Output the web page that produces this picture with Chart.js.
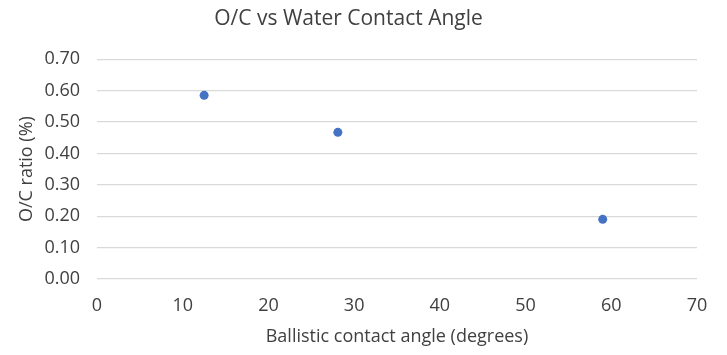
<!DOCTYPE html>
<html>
<head>
<meta charset="utf-8">
<script src="https://cdn.jsdelivr.net/npm/chart.js@4/dist/chart.umd.min.js"></script>
<style>
  html, body { margin: 0; padding: 0; background: #ffffff; }
  #wrap { width: 727px; height: 355px; position: relative; }
</style>
</head>
<body>
<div id="wrap"><canvas id="c" width="727" height="355"></canvas></div>
<script>
const contactAngle = [12.5, 28.1, 59.0];
const ocRatio = [0.585, 0.467, 0.19];
const yTicks = [0, 0.1, 0.2, 0.3, 0.4, 0.5, 0.6, 0.7];
const xTicks = [0, 10, 20, 30, 40, 50, 60, 70];

const points = contactAngle.map((x, i) => ({ x: x, y: ocRatio[i] }));
const FONT = "'Open Sans', sans-serif";
const TXT = '#404040';

new Chart(document.getElementById('c'), {
  type: 'scatter',
  data: {
    datasets: [{
      data: points,
      backgroundColor: '#4472C4',
      borderColor: '#4472C4',
      pointRadius: 4.5,
      pointHoverRadius: 4.5,
      borderWidth: 0
    }]
  },
  options: {
    responsive: false,
    animation: false,
    devicePixelRatio: 1,
    layout: { padding: { left: 0, right: 30, top: 0, bottom: 0 } },
    plugins: {
      legend: { display: false },
      tooltip: { enabled: false },
      title: {
        display: true,
        text: 'O/C vs Water Contact Angle',
        color: TXT,
        font: { family: FONT, size: 21, weight: 'normal' },
        padding: { top: 6, bottom: 28 }
      }
    },
    scales: {
      x: {
        type: 'linear',
        min: 0, max: 70,
        afterBuildTicks: (s) => { s.ticks = xTicks.map(v => ({ value: v })); },
        afterFit: (s) => { s.height = 76; },
        grid: { display: false, drawTicks: false },
        border: { display: false },
        ticks: {
          color: TXT, padding: 16,
          font: { family: FONT, size: 18 },
          maxRotation: 0,
          callback: (v) => String(v)
        },
        title: {
          display: true,
          text: 'Ballistic contact angle (degrees)',
          color: TXT,
          font: { family: FONT, size: 18 },
          padding: { top: 0, bottom: 7 }
        }
      },
      y: {
        type: 'linear',
        min: 0, max: 0.7,
        afterBuildTicks: (s) => { s.ticks = yTicks.map(v => ({ value: v })); },
        afterFit: (s) => { s.width = 97; },
        grid: { color: '#d9d9d9', lineWidth: 1.3, drawTicks: false },
        border: { display: false },
        ticks: {
          color: TXT, padding: 17,
          font: { family: FONT, size: 18 },
          callback: (v) => Number(v).toFixed(2)
        },
        title: {
          display: true,
          text: 'O/C ratio (%)',
          color: TXT,
          font: { family: FONT, size: 18 },
          padding: { top: 16, bottom: 0 }
        }
      }
    }
  }
});
</script>
</body>
</html>
